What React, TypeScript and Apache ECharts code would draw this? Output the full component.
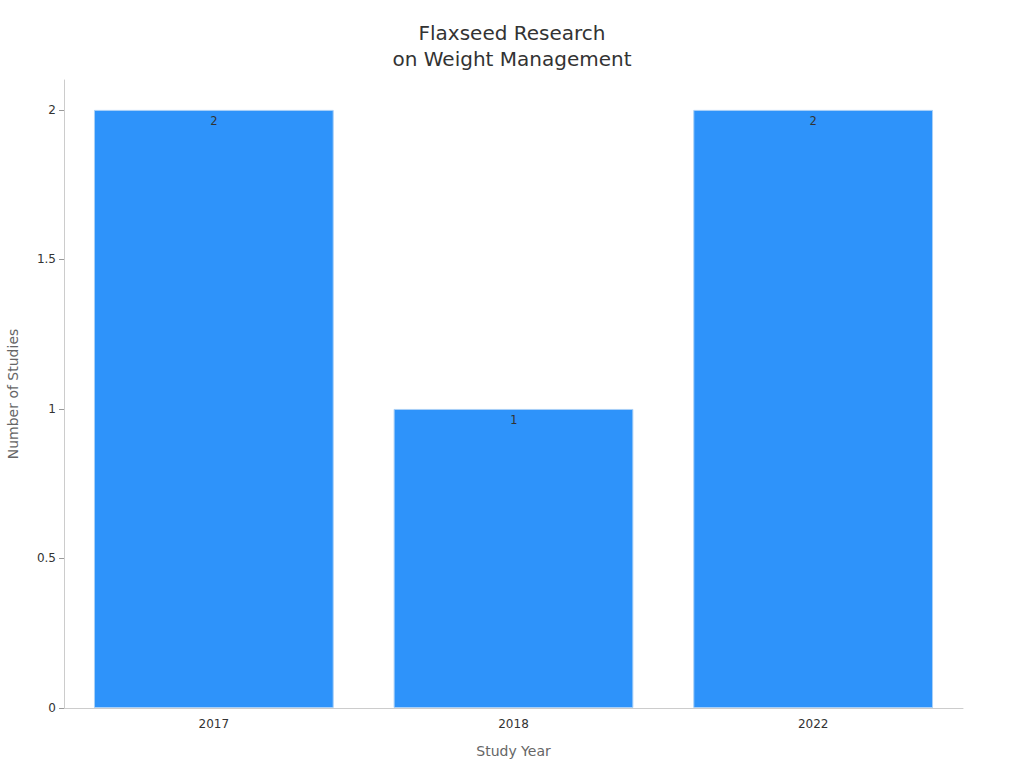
import { useEffect, useRef } from "react";
import * as echarts from "echarts";

const years = ["2017", "2018", "2022"];
const studies = [2, 1, 2];
const yTicks = [0, 0.5, 1, 1.5, 2];

const FONT = "DejaVu Sans";

export default function App() {
  const chartRef = useRef<HTMLDivElement>(null);

  useEffect(() => {
    const chart = echarts.init(chartRef.current, null, { renderer: "svg" });

    chart.setOption({
      animation: false,
      textStyle: { fontFamily: FONT },
      title: {
        text: "Flaxseed Research\non Weight Management",
        left: "center",
        top: 15,
        textStyle: {
          fontFamily: FONT,
          fontSize: 20,
          fontWeight: "normal",
          color: "#333",
          lineHeight: 26,
        },
      },
      grid: {
        left: 64,
        right: 61,
        top: 80,
        bottom: 60,
        containLabel: false,
        outerBoundsMode: "none",
      },
      xAxis: {
        type: "category",
        data: years,
        name: "Study Year",
        nameLocation: "middle",
        nameGap: 36,
        nameTextStyle: { color: "#666", fontSize: 14, fontFamily: FONT },
        axisLine: { lineStyle: { color: "#ccc" } },
        axisTick: { alignWithLabel: true, lineStyle: { color: "#999" } },
        axisLabel: { color: "#333", fontSize: 12, margin: 10, fontFamily: FONT },
      },
      yAxis: {
        type: "value",
        min: 0,
        max: 2.1,
        interval: 0.5,
        name: "Number of Studies",
        nameLocation: "middle",
        nameGap: 44,
        nameTextStyle: { color: "#666", fontSize: 14, fontFamily: FONT },
        splitLine: { show: false },
        axisLine: { show: true, lineStyle: { color: "#ccc" } },
        axisTick: {
          show: true,
          length: 5,
          lineStyle: { color: "#999" },
          customValues: yTicks,
        },
        axisLabel: {
          color: "#333",
          fontSize: 12,
          margin: 8,
          fontFamily: FONT,
          customValues: yTicks,
        },
      },
      series: [
        {
          type: "bar",
          data: studies,
          barCategoryGap: "20%",
          itemStyle: { color: "#2E93FA", borderColor: "#A9D0F7", borderWidth: 1 },
          label: {
            show: true,
            position: "insideTop",
            distance: 5,
            color: "#333",
            fontSize: 12,
            fontFamily: "DejaVu Sans Mono",
          },
        },
      ],
    });

    return () => {
      chart.dispose();
    };
  }, []);

  return (
    <div
      ref={chartRef}
      style={{ position: "absolute", left: 0, top: 0, width: 1024, height: 768 }}
    />
  );
}
